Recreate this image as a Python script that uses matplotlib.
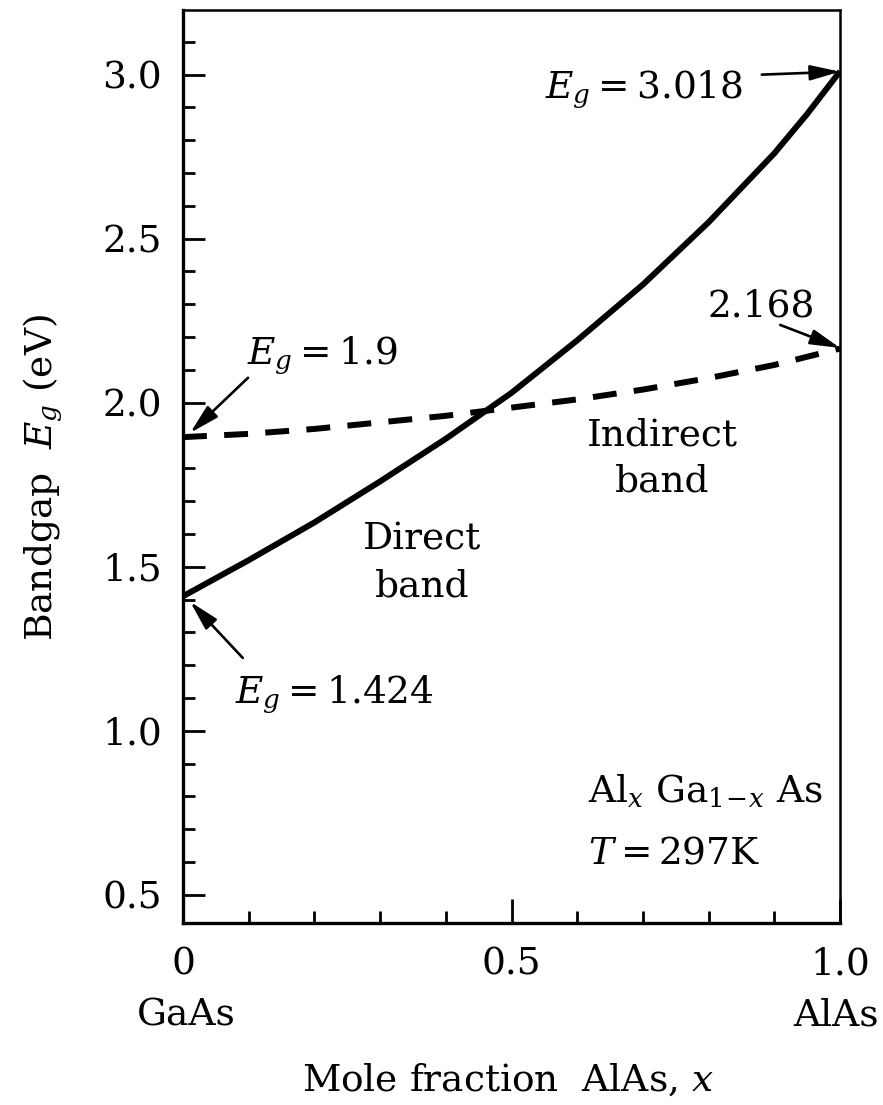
import numpy as np
import matplotlib
matplotlib.use('Agg')
import matplotlib.pyplot as plt
from matplotlib.ticker import MultipleLocator

plt.rcParams['font.family'] = ['DejaVu Serif']
plt.rcParams['mathtext.fontset'] = 'dejavuserif'

# values
x_direct = [0.0, 0.1, 0.2, 0.3, 0.4, 0.45, 0.5, 0.6, 0.7, 0.8, 0.9, 0.95, 1.0]
eg_direct = [1.41, 1.52, 1.635, 1.76, 1.89, 1.96, 2.03, 2.19, 2.36, 2.55, 2.76, 2.88, 3.01]
x_indirect = [0.0, 0.1, 0.2, 0.3, 0.4, 0.5, 0.6, 0.7, 0.8, 0.9, 1.0]
eg_indirect = [1.895, 1.905, 1.92, 1.94, 1.96, 1.985, 2.01, 2.04, 2.075, 2.115, 2.165]

xtick_vals = [0, 0.5, 1.0]
xtick_labels = ['0', '0.5', '1.0']
ytick_vals = [0.5, 1.0, 1.5, 2.0, 2.5, 3.0]
ytick_labels = ['0.5', '1.0', '1.5', '2.0', '2.5', '3.0']

fs = 27
W, H = 883, 1105

fig = plt.figure(figsize=(W / 100, H / 100), dpi=100)
ax = fig.add_axes([183 / W, 1 - 923 / H, (840 - 183) / W, (923 - 10) / H])

ax.plot(x_direct, eg_direct, color='black', lw=4.3, solid_capstyle='butt',
        solid_joinstyle='round')
ax.plot(x_indirect, eg_indirect, color='black', lw=4.3,
        linestyle=(0, (4.0, 2.9)), dash_capstyle='butt')

ax.set_xlim(0, 1)
ax.set_ylim(0.414, 3.197)

ax.set_xticks(xtick_vals)
ax.set_xticklabels(xtick_labels)
ax.set_yticks(ytick_vals)
ax.set_yticklabels(ytick_labels)
ax.xaxis.set_minor_locator(MultipleLocator(0.1))
ax.yaxis.set_minor_locator(MultipleLocator(0.1))
ax.tick_params(axis='both', which='both', direction='in', width=2.0,
               top=False, right=False, labelsize=fs)
ax.tick_params(axis='y', which='major', length=16, pad=15)
ax.tick_params(axis='y', which='minor', length=8.5)
ax.tick_params(axis='x', which='major', length=17, pad=17)
ax.tick_params(axis='x', which='minor', length=9)

for side in ['left', 'bottom']:
    ax.spines[side].set_linewidth(2.4)
for side in ['top', 'right']:
    ax.spines[side].set_linewidth(1.8)

arrow = dict(arrowstyle='-|>,head_length=0.9,head_width=0.23', color='black',
             lw=1.9, mutation_scale=20, shrinkA=0, shrinkB=0)

ax.text(0.551, 2.932, r'$E_g = 3.018$', fontsize=fs, ha='left', va='baseline')
ax.annotate('', xy=(1.0, 3.009), xytext=(0.881, 3.0), arrowprops=arrow)

ax.text(0.799, 2.262, '2.168', fontsize=fs, ha='left', va='baseline')
ax.annotate('', xy=(1.0, 2.167), xytext=(0.909, 2.237), arrowprops=arrow)

ax.text(0.097, 2.121, r'$E_g = 1.9$', fontsize=fs, ha='left', va='baseline')
ax.annotate('', xy=(0.011, 1.908), xytext=(0.099, 2.076), arrowprops=arrow)

ax.text(0.079, 1.088, r'$E_g = 1.424$', fontsize=fs, ha='left', va='baseline')
ax.annotate('', xy=(0.011, 1.393), xytext=(0.091, 1.222), arrowprops=arrow)

ax.text(0.364, 1.551, 'Direct', fontsize=fs, ha='center', va='baseline')
ax.text(0.364, 1.408, 'band', fontsize=fs, ha='center', va='baseline')
ax.text(0.730, 1.871, 'Indirect', fontsize=fs, ha='center', va='baseline')
ax.text(0.730, 1.728, 'band', fontsize=fs, ha='center', va='baseline')

ax.text(0.616, 0.783, r'Al$_x$ Ga$_{1\!-\!x}$ As', fontsize=fs, ha='left', va='baseline')
ax.text(0.616, 0.594, r'$T = 297$K', fontsize=fs, ha='left', va='baseline')

fig.text(186 / W, 1 - 1015 / H, 'GaAs', fontsize=fs, ha='center', va='center')
fig.text(836 / W, 1 - 1015 / H, 'AlAs', fontsize=fs, ha='center', va='center')
fig.text(508 / W, 1 - 1080 / H, r'Mole fraction  AlAs, $x$', fontsize=fs,
         ha='center', va='center')
fig.text(43 / W, 1 - 478 / H, r'Bandgap  $E_g$ (eV)', fontsize=fs,
         ha='center', va='center', rotation=90)

fig.savefig('out.png', dpi=100)
